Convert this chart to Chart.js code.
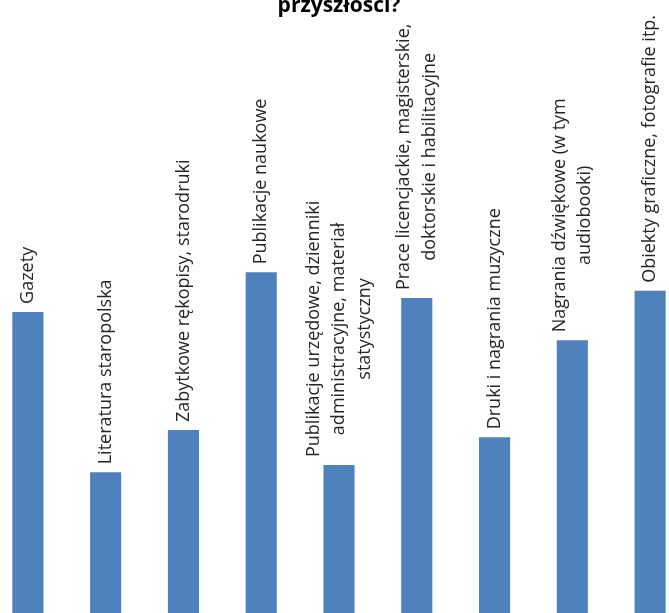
<!DOCTYPE html>
<html>
<head>
<meta charset="utf-8">
<script src="https://cdn.jsdelivr.net/npm/chart.js@4/dist/chart.umd.min.js"></script>
<style>
    html, body { margin: 0; padding: 0; overflow: hidden; background: #fff; }
    body { width: 669px; height: 613px; position: relative; }
    #wrap { position: absolute; left: -11.5px; top: -10px; width: 700px; height: 710px; }
</style>
</head>
<body>
<div id="wrap"><canvas id="myChart"></canvas></div>
<script>
const titleText = 'przyszłości?';

// każda etykieta jako lista linii
const categories = [
    ['Gazety'],
    ['Literatura staropolska'],
    ['Zabytkowe rękopisy, starodruki'],
    ['Publikacje naukowe'],
    ['Publikacje urzędowe, dzienniki', 'administracyjne, materiał', 'statystyczny'],
    ['Prace licencjackie, magisterskie,', 'doktorskie i habilitacyjne'],
    ['Druki i nagrania muzyczne'],
    ['Nagrania dźwiękowe (w tym', 'audiobooki)'],
    ['Obiekty graficzne, fotografie itp.'],
];

const values = [58.8, 34.5, 40.9, 64.8, 35.6, 60.9, 39.8, 54.5, 62.0];

const labelFont = '18px "Open Sans"';
const labelColor = '#262626';

// etykiety pionowe nad słupkami
const barLabels = {
    id: 'barLabels',
    afterDatasetsDraw(chart) {
        const ctx = chart.ctx;
        const meta = chart.getDatasetMeta(0);
        ctx.save();
        ctx.font = labelFont;
        ctx.fillStyle = labelColor;
        ctx.textAlign = 'center';
        ctx.textBaseline = 'middle';
        const lh = 25.5;
        meta.data.forEach((bar, i) => {
            const lines = categories[i];
            const maxW = Math.max(...lines.map((l) => ctx.measureText(l).width));
            ctx.save();
            ctx.translate(bar.x, bar.y - 8);
            ctx.rotate(-Math.PI / 2);
            lines.forEach((line, j) => {
                ctx.fillText(line, maxW / 2, (j - (lines.length - 1) / 2) * lh);
            });
            ctx.restore();
        });
        ctx.restore();
    },
};

const ctx = document.getElementById('myChart').getContext('2d');
new Chart(ctx, {
    type: 'bar',
    data: {
        labels: categories,
        datasets: [
            {
                data: values,
                backgroundColor: '#4F81BD',
                categoryPercentage: 1,
                barPercentage: 0.4,
            },
        ],
    },
    options: {
        responsive: true,
        maintainAspectRatio: false,
        animation: false,
        layout: { padding: 0 },
        plugins: {
            legend: { display: false },
            tooltip: { enabled: false },
            title: {
                display: true,
                text: titleText,
                color: '#000',
                font: { family: 'Open Sans', size: 21, weight: 'bold', lineHeight: 1.2 },
                padding: { top: 3, bottom: 21.8 },
            },
        },
        scales: {
            x: { display: false },
            y: { display: false, min: 0, max: 100 },
        },
    },
    plugins: [barLabels],
});
</script>
</body>
</html>
